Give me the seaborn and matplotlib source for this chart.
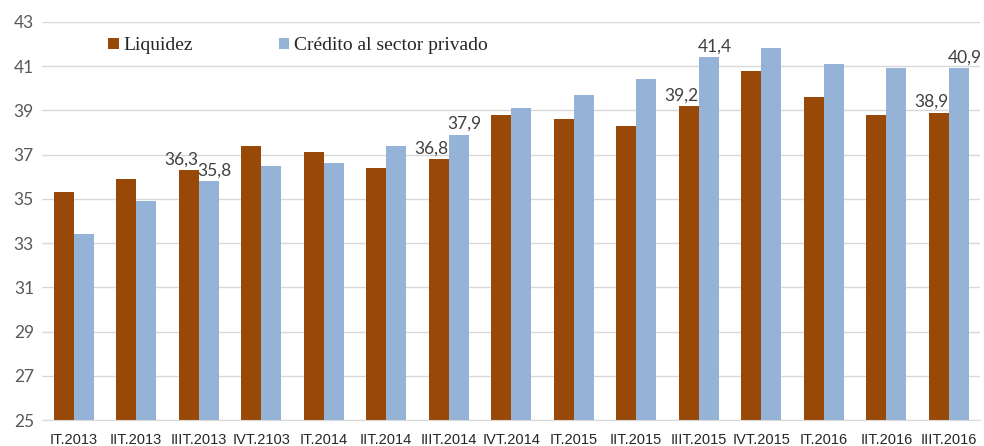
import numpy as np
import pandas as pd
import matplotlib.pyplot as plt
import seaborn as sns

# trimestres y valores (% del PIB)
trimestres = ["IT.2013", "IIT.2013", "IIIT.2013", "IVT.2103", "IT.2014", "IIT.2014",
              "IIIT.2014", "IVT.2014", "IT.2015", "IIT.2015", "IIIT.2015", "IVT.2015",
              "IT.2016", "IIT.2016", "IIIT.2016"]
liquidez = [35.3, 35.9, 36.3, 37.4, 37.1, 36.4, 36.8, 38.8, 38.6, 38.3, 39.2, 40.8, 39.6, 38.8, 38.9]
credito = [33.4, 34.9, 35.8, 36.5, 36.6, 37.4, 37.9, 39.1, 39.7, 40.4, 41.4, 41.8, 41.1, 40.9, 40.9]
etiquetados = ["IIIT.2013", "IIIT.2014", "IIIT.2015", "IIIT.2016"]

df = pd.DataFrame({
    "trimestre": trimestres * 2,
    "serie": ["Liquidez"] * len(trimestres) + ["Crédito al sector privado"] * len(trimestres),
    "valor": liquidez + credito,
})

sns.set_style("white")
fig, ax = plt.subplots(figsize=(9.84, 4.46), dpi=100)
fig.subplots_adjust(left=0.043, right=0.996, top=0.951, bottom=0.058)

colores = ["#984807", "#95B3D7"]
sns.barplot(data=df, x="trimestre", y="valor", hue="serie", palette=colores,
            width=0.64, saturation=1, linewidth=0, ax=ax, legend=True)

ax.set_ylim(25, 43)
ax.set_yticks(np.arange(25, 44, 2))
ax.set_xlim(-0.5, len(trimestres) - 0.5)
ax.set_xlabel("")
ax.set_ylabel("")
ax.yaxis.grid(True, color="#D9D9D9", linewidth=1)
ax.set_axisbelow(True)
for s in ["top", "right", "left"]:
    ax.spines[s].set_visible(False)
ax.spines["bottom"].set_color("#D9D9D9")

ax.tick_params(axis="y", length=0, labelsize=12.5, labelcolor="#595959", pad=6)
ax.tick_params(axis="x", which="major", length=0, labelsize=10.5, labelcolor="#262626", pad=9)
for lab in ax.get_yticklabels():
    lab.set_family(["Lato", "DejaVu Sans"])
for lab in ax.get_xticklabels():
    lab.set_family(["Liberation Sans Narrow", "Liberation Sans", "DejaVu Sans"])
ax.set_xticks(np.arange(-0.5, len(trimestres), 1), minor=True)
ax.tick_params(axis="x", which="minor", length=5, width=1, color="#D9D9D9")

# etiquetas de datos
for i, t in enumerate(trimestres):
    if t in etiquetados:
        ax.text(i - 0.27, liquidez[i] + 0.12, f"{liquidez[i]:.1f}".replace(".", ","),
                ha="center", va="bottom", fontsize=12.5, color="#404040",
                family=["Lato", "DejaVu Sans"])
        ax.text(i + 0.25, credito[i] + 0.12, f"{credito[i]:.1f}".replace(".", ","),
                ha="center", va="bottom", fontsize=12.5, color="#404040",
                family=["Lato", "DejaVu Sans"])

leg = ax.legend(loc="center left", bbox_to_anchor=(0.07, 0.94), ncol=2, frameon=False,
                handlelength=0.55, handleheight=0.55, handletextpad=0.25, columnspacing=4.4,
                borderaxespad=0, borderpad=0,
                prop={"family": ["Liberation Serif", "DejaVu Serif"], "size": 14})

fig.savefig("out.png", dpi=100)
